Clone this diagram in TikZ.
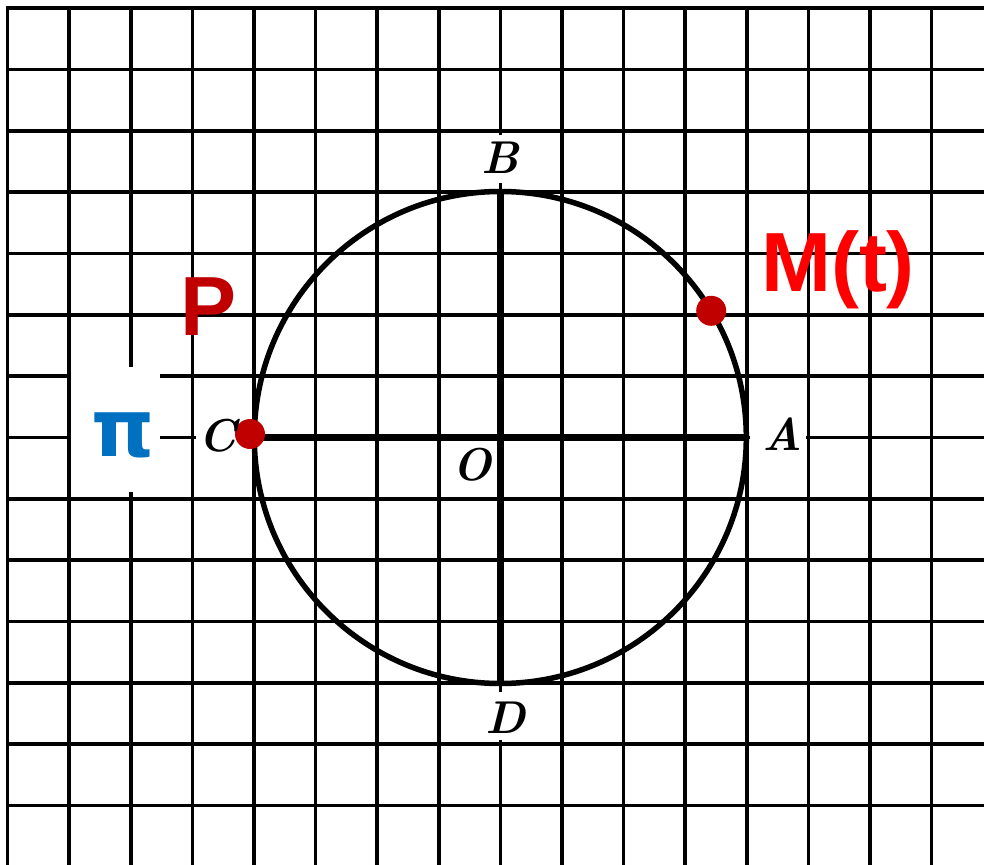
\documentclass[tikz,border=0pt]{standalone}
\usepackage{fontspec}
\newfontfamily\labsans{Liberation Sans}
\newfontfamily\greeksans{DejaVu Sans}
\definecolor{darkred}{RGB}{192,0,0}
\definecolor{brightred}{RGB}{255,0,0}
\definecolor{piblue}{RGB}{0,112,192}
\begin{document}
\begin{tikzpicture}[x=1pt,y=-1pt,
  gridline/.style={line width=3.6pt},
  axisline/.style={line width=6.5pt},
  circleline/.style={line width=5.5pt},
  ptlabel/.style={font=\fontsize{46}{46}\selectfont\bfseries\itshape, inner sep=0pt},
  dot/.style={circle, fill=darkred, minimum size=30pt, inner sep=0pt},
  bigred/.style={font=\fontsize{84}{84}\selectfont\labsans\bfseries, inner sep=0pt}]
\useasboundingbox (0,0) rectangle (984,864);
\fill[white] (0,0) rectangle (984,864);
% grid
\foreach \k in {0,...,13}
  \draw[gridline] (5.7,{8+61.35*\k}) -- (990,{8+61.35*\k});
\foreach \k in {0,...,15}
  \draw[gridline] ({7.5+61.6*\k},6.2) -- ({7.5+61.6*\k},870);
% white patches behind labels
\fill[white] (71,367) rectangle (160,492);
\fill[white] (196,417) rectangle (240,457);
\fill[white] (750,415) rectangle (806,455);
\fill[white] (480,135) rectangle (520,183);
\fill[white] (482,692) rectangle (528,740);
% geometry
\coordinate (O) at (500.3,437.5);
\coordinate (A) at (746.3,437.5);
\coordinate (C) at (254.3,437.5);
\coordinate (B) at (500.3,191.5);
\coordinate (D) at (500.3,683.5);
\coordinate (M) at (711.2,310.8);
\draw[axisline] (C) -- (A);
\draw[axisline] (B) -- (D);
\draw[circleline] (O) circle[radius=246];
\node[dot] (Mdot) at (M) {};
\node[dot] (Cdot) at (250,434) {};
% labels
\node[ptlabel] (labB) at (500,158) {B};
\node[ptlabel] (labA) at (782,434) {A};
\node[ptlabel] (labC) at (218,436) {C};
\node[ptlabel] (labD) at (506,718) {D};
\node[ptlabel] (labO) at (472,465) {O};
\node[bigred, text=darkred] (labP) at (209,307) {P};
\node[bigred, text=brightred] (labM) at (838,270) {M(t)};
\node[font=\fontsize{80}{80}\selectfont\greeksans\bfseries, text=piblue, inner sep=0pt] (labpi) at (123,435) {π};
\end{tikzpicture}
\end{document}
